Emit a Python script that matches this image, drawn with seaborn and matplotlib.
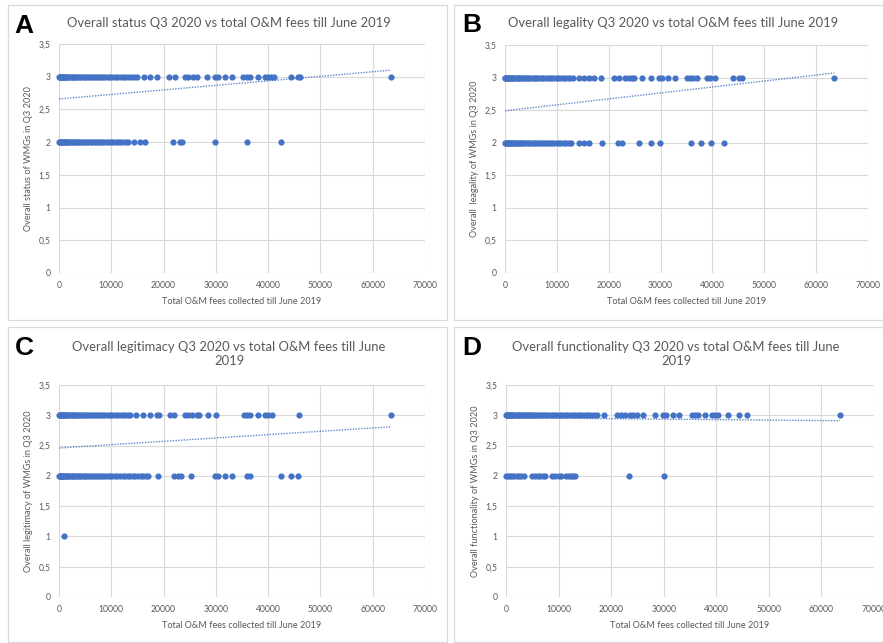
import matplotlib
matplotlib.use("Agg")
import matplotlib.pyplot as plt
import pandas as pd
import seaborn as sns
from matplotlib.patches import Rectangle
from matplotlib.ticker import FuncFormatter

# ---------------- data ----------------
# Panel A: overall status
a_fee_3 = [0, 100, 230, 340, 520, 650, 800, 990, 1150, 1300, 1560, 1720, 1980, 2200, 2410,
           2700, 2930, 3250, 3480, 3800, 4050, 4400, 4720, 5010, 5400, 5700, 6100, 6450,
           6880, 7200, 7650, 8020, 8500, 8850, 9300, 9800, 10200, 10750, 11150, 11700,
           12200, 12650, 13200, 13700, 14300, 15000, 16200, 17400, 18800, 21100, 22200,
           24100, 24700, 25700, 26300, 28300, 29900, 30400, 31700, 33000, 35200, 35900,
           36500, 38100, 39400, 40000, 40600, 41100, 44300, 45700, 46000, 63500]
a_fee_2 = [0, 120, 260, 410, 580, 700, 900, 1080, 1250, 1500, 1700, 1900, 2150, 2400, 2650,
           2900, 3200, 3500, 3750, 4100, 4400, 4700, 5050, 5350, 5700, 6050, 6400, 6800,
           7150, 7500, 7900, 8300, 8700, 9100, 9550, 9950, 10400, 10850, 11300, 11750,
           12200, 12750, 13250, 14300, 15400, 16400, 21800, 23100, 23600, 29900, 36000, 42400]

# Panel B: overall legality
b_fee_3 = [0, 90, 210, 360, 500, 660, 820, 970, 1180, 1350, 1540, 1760, 1950, 2230, 2450,
           2690, 2960, 3220, 3510, 3770, 4080, 4360, 4700, 5030, 5350, 5720, 6060, 6430,
           6850, 7220, 7610, 8050, 8440, 8870, 9290, 9760, 10180, 10690, 11120, 11640,
           12150, 12620, 13100, 14300, 15300, 16200, 17200, 18600, 21000, 22000, 23200,
           23900, 24500, 24800, 26400, 28200, 29700, 30300, 31500, 32800, 35000, 35700,
           36300, 37000, 38900, 39500, 40400, 44000, 45200, 45700, 63500]
b_fee_2 = [0, 110, 250, 400, 560, 720, 880, 1060, 1270, 1480, 1690, 1920, 2170, 2380, 2640,
           2920, 3180, 3470, 3760, 4070, 4380, 4690, 5020, 5380, 5690, 6040, 6420, 6780,
           7160, 7540, 7920, 8310, 8720, 9130, 9540, 9970, 10420, 10860, 11320, 11770,
           12250, 12700, 14300, 15300, 16200, 18800, 21700, 22600, 25800, 28200, 29800,
           35900, 37800, 39800, 42200]

# Panel C: overall legitimacy
c_fee_3 = [0, 110, 240, 370, 510, 670, 830, 1000, 1170, 1360, 1550, 1770, 1990, 2220, 2440,
           2700, 2950, 3230, 3500, 3790, 4070, 4380, 4710, 5020, 5370, 5710, 6080, 6440,
           6860, 7210, 7620, 8030, 8460, 8860, 9310, 9770, 10210, 10720, 11160, 11660,
           12180, 12660, 13120, 13600, 14700, 16000, 17400, 18800, 19200, 21200, 22000,
           24100, 24700, 25400, 26300, 26800, 28500, 30000, 35400, 35900, 36500, 38100,
           39400, 40000, 40800, 45900, 63500]
c_fee_2 = [0, 100, 220, 350, 490, 640, 810, 980, 1160, 1340, 1560, 1750, 1970, 2210, 2430,
           2690, 2940, 3220, 3490, 3780, 4060, 4370, 4700, 5010, 5360, 5700, 6070, 6430,
           6850, 7200, 7610, 8020, 8450, 8850, 9300, 9760, 10200, 10710, 11150, 11650,
           12170, 12650, 13110, 13590, 14080, 14600, 15120, 15650, 16150, 16600, 17000,
           19000, 22000, 22800, 23400, 25200, 29900, 30400, 31700, 33000, 35900, 36500,
           42400, 44300, 45700]
c_fee_1 = [1000]

# Panel D: overall functionality
d_fee_3 = [0, 120, 250, 390, 540, 690, 850, 1020, 1200, 1390, 1580, 1790, 2010, 2240, 2470,
           2720, 2970, 3240, 3520, 3800, 4090, 4390, 4720, 5040, 5390, 5730, 6100, 6460,
           6870, 7230, 7640, 8060, 8470, 8880, 9320, 9790, 10230, 10730, 11170, 11680,
           12190, 12670, 13140, 13610, 14100, 14620, 15140, 15660, 16170, 16720, 17300,
           18700, 21100, 21800, 22700, 23600, 24200, 24900, 26100, 28400, 29900, 30400,
           31700, 33000, 35300, 36000, 36600, 37900, 39100, 39800, 40400, 42300, 44400,
           45800, 63500]
d_fee_2 = [0, 300, 700, 1100, 1500, 2000, 2500, 2900, 3400, 5000, 5500, 6000, 6500, 7000,
           7400, 8800, 9300, 10000, 10400, 11400, 11900, 12300, 12800, 13100, 23400, 30000]

# Linear trendlines (value at start and end of fee range)
trend_fee = [0, 63500]
a_trend = [2.66, 3.10]
b_trend = [2.49, 3.07]
c_trend = [2.46, 2.81]
d_trend = [2.96, 2.91]

letters = ["A", "B", "C", "D"]
titles = ["Overall status Q3 2020 vs total O&M fees till June 2019",
          "Overall legality Q3 2020 vs total O&M fees till June 2019",
          "Overall legitimacy Q3 2020 vs total O&M fees till June\n2019",
          "Overall functionality Q3 2020 vs total O&M fees till June\n2019"]
ylabels = ["Overall status of WMGs in Q3 2020",
           "Overall  leagality of WMGs in Q3 2020",
           "Overall legitimacy of WMGs in Q3 2020",
           "Overall functionality of WMGs in Q3 2020"]
xlabel = "Total O&M fees collected till June 2019"
x_ticks = [0, 10000, 20000, 30000, 40000, 50000, 60000, 70000]
y_ticks = [0, 0.5, 1, 1.5, 2, 2.5, 3, 3.5]


def frame(groups):
    rows = []
    for score, fees in groups:
        rows += [(f, score) for f in fees]
    return pd.DataFrame(rows, columns=["fee", "score"])


panels_data = [
    (frame([(3, a_fee_3), (2, a_fee_2)]), a_trend),
    (frame([(3, b_fee_3), (2, b_fee_2)]), b_trend),
    (frame([(3, c_fee_3), (2, c_fee_2), (1, c_fee_1)]), c_trend),
    (frame([(3, d_fee_3), (2, d_fee_2)]), d_trend),
]

# ---------------- style / layout ----------------
sns.set_style("white")
plt.rcParams["font.family"] = ["Lato", "DejaVu Sans"]

W, H = 883, 643
BLUE = "#4472C4"
GRID = "#D9D9D9"
TXT = "#595959"

fig = plt.figure(figsize=(W / 100, H / 100), dpi=100)


def fx(x):
    return x / W


def fy(y):
    return 1 - y / H


# (chart area box l,t,r,b), (plot area l,t,r,b), letter pos, title center, title y
layout = [
    ((8, 5, 447, 320), (59, 44, 425, 273), (14, 33), 229, 23),
    ((454, 5, 892, 320), (505, 45, 868, 273), (462, 32), 673, 23),
    ((8, 327, 447, 642), (59, 385, 425, 597), (15, 355), 229, 354),
    ((454, 327, 892, 642), (506, 385, 874, 597), (462, 355), 676, 354),
]

fmt = FuncFormatter(lambda v, p: ("%g" % v).replace(".", ","))

for i, ((df, trend), (cbox, pbox, lpos, tcx, ty)) in enumerate(zip(panels_data, layout)):
    l, t, r, b = cbox
    fig.patches.append(Rectangle((fx(l), fy(b)), fx(r - l), (b - t) / H,
                                 transform=fig.transFigure, fill=False,
                                 edgecolor=GRID, linewidth=0.9))
    pl, pt, pr, pb = pbox
    ax = fig.add_axes([fx(pl), fy(pb), fx(pr - pl), (pb - pt) / H])
    sns.scatterplot(data=df, x="fee", y="score", ax=ax, color=BLUE, s=20,
                    linewidth=0, zorder=3, clip_on=False)
    sns.lineplot(x=trend_fee, y=trend, ax=ax, color=BLUE, linewidth=1.0,
                 linestyle=(0, (1, 1)), zorder=4, alpha=0.85)
    ax.set_xlim(0, 70000)
    ax.set_ylim(0, 3.5)
    ax.set_xticks(x_ticks)
    ax.set_yticks(y_ticks)
    ax.yaxis.set_major_formatter(fmt)
    ax.grid(True, color=GRID, linewidth=0.8)
    ax.set_axisbelow(True)
    for s in ax.spines.values():
        s.set_visible(False)
    ax.tick_params(length=0, labelsize=6.2, colors=TXT, pad=6)
    ax.set_xlabel("")
    ax.set_ylabel("")

    fig.text(fx(lpos[0]), fy(lpos[1]), letters[i], fontsize=19, fontweight="bold",
             family="Liberation Sans", color="black", ha="left", va="baseline")
    fig.text(fx(tcx), fy(ty), titles[i], fontsize=9.4, color=TXT,
             ha="center", va="center", linespacing=1.25)
    fig.text(fx((pl + pr) / 2), fy(pb + 29), xlabel, fontsize=6.6, color=TXT,
             ha="center", va="center")
    fig.text(fx(pl - 30), fy((pt + pb) / 2), ylabels[i], fontsize=6.6, color=TXT,
             ha="center", va="center", rotation=90)

fig.savefig("out.png", dpi=100, facecolor="white")
